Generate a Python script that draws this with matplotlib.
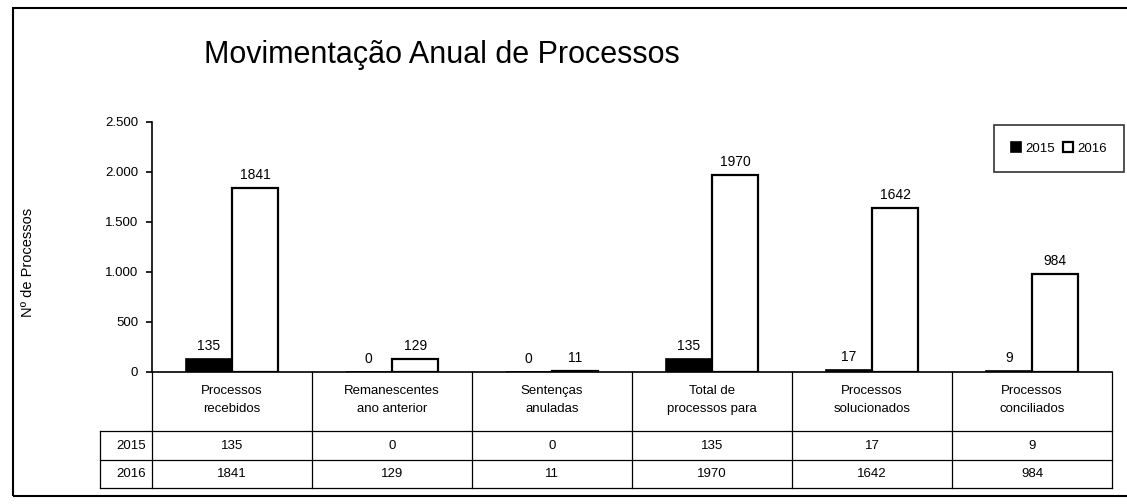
import matplotlib
matplotlib.use("Agg")
import matplotlib.pyplot as plt
import matplotlib.transforms as mtransforms
from matplotlib.patches import Rectangle
from matplotlib.lines import Line2D
import numpy as np

# ---- data ----
categories = ["Processos\nrecebidos", "Remanescentes\nano anterior", "Sentenças\nanuladas",
              "Total de\nprocessos para", "Processos\nsolucionados", "Processos\nconciliados"]
years = ["2015", "2016"]
values_2015 = [135, 0, 0, 135, 17, 9]
values_2016 = [1841, 129, 11, 1970, 1642, 984]
yticks = [0, 500, 1000, 1500, 2000, 2500]
ytick_labels = ["0", "500", "1.000", "1.500", "2.000", "2.500"]

W, H = 1127, 504
fig = plt.figure(figsize=(W / 100, H / 100), dpi=100)
plt.rcParams['font.family'] = ['Liberation Sans', 'DejaVu Sans']

def fx(x):
    return x / W

def fy(y):
    return 1 - y / H

# plot area: x 152..1112 px, y 122..372 px
ax = fig.add_axes([fx(152), fy(372), fx(1112) - fx(152), (372 - 122) / H])
n = len(categories)
x = np.arange(n)
bw = 0.29
b1 = ax.bar(x - bw / 2, values_2015, bw, color="black", edgecolor="black", linewidth=1.2, label=years[0])
b2 = ax.bar(x + bw / 2, values_2016, bw, color="white", edgecolor="black", linewidth=1.6, label=years[1])
for bars, vals in ((b1, values_2015), (b2, values_2016)):
    for r, v in zip(bars, vals):
        ax.text(r.get_x() + r.get_width() / 2, v + 60, str(v), ha="center", va="bottom", fontsize=10)

ax.set_xlim(-0.5, n - 0.5)
ax.set_ylim(0, 2500)
ax.set_yticks(yticks)
ax.set_yticklabels(ytick_labels, fontsize=9.5)
ax.set_xticks([])
for s in ("top", "right"):
    ax.spines[s].set_visible(False)
ax.spines["left"].set_linewidth(1.2)
ax.spines["bottom"].set_linewidth(1.2)
ax.tick_params(axis="y", direction="out", length=4, width=1.2, pad=6)

# title and axis label
fig.text(fx(442), fy(55), "Movimentação Anual de Processos", ha="center", va="center", fontsize=22)
fig.text(fx(28), fy(262), "Nº de Processos", rotation=90, ha="center", va="center", fontsize=10.5)

# data table
bt = mtransforms.blended_transform_factory(ax.transData, fig.transFigure)
for i, c in enumerate(categories):
    ax.text(i, fy(400), c, transform=bt, ha="center", va="center", fontsize=9.5,
            linespacing=1.6, clip_on=False)
    ax.text(i, fy(446), str(values_2015[i]), transform=bt, ha="center", va="center", fontsize=9.5, clip_on=False)
    ax.text(i, fy(474), str(values_2016[i]), transform=bt, ha="center", va="center", fontsize=9.5, clip_on=False)
fig.text(fx(146), fy(446), years[0], ha="right", va="center", fontsize=9.5)
fig.text(fx(146), fy(474), years[1], ha="right", va="center", fontsize=9.5)

lw = 0.9
for yy in (431, 460, 488):
    fig.add_artist(Line2D([fx(100), fx(1112)], [fy(yy), fy(yy)], color="black", lw=lw))
for i in range(n + 1):
    xx = 152 + 160 * i
    fig.add_artist(Line2D([fx(xx), fx(xx)], [fy(372), fy(488)], color="black", lw=lw))
fig.add_artist(Line2D([fx(100), fx(100)], [fy(431), fy(488)], color="black", lw=lw))

# legend
leg = fig.legend(handles=[b1, b2], labels=years, loc="upper right",
                 bbox_to_anchor=(fx(1124), fy(125)), ncol=2, fontsize=9.5,
                 frameon=True, fancybox=False, edgecolor="black", handlelength=0.8,
                 handleheight=0.8, columnspacing=0.6, handletextpad=0.3, borderpad=1.3,
                 borderaxespad=0)
leg.get_frame().set_linewidth(1.2)

# chart border
fig.add_artist(Rectangle((fx(13), fy(496)), fx(1140) - fx(13), fy(8) - fy(496),
                         fill=False, edgecolor="black", lw=1.5, transform=fig.transFigure))

fig.savefig("out.png", dpi=100, facecolor="white")
